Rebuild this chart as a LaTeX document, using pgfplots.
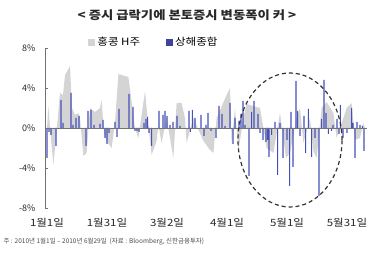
\documentclass[border=0pt]{standalone}
\usepackage{pgfplots}
\pgfplotsset{compat=1.18}
\usepackage{fontspec}
\setmainfont{Noto Sans CJK KR}
\newfontfamily\widefont{Noto Sans CJK KR}[FakeStretch=1.15]
\definecolor{hkgray}{RGB}{212,212,212}
\definecolor{shblue}{RGB}{70,80,185}
\definecolor{txt}{RGB}{40,40,40}
\begin{document}
\begin{tikzpicture}
\path[use as bounding box] (0,0) rectangle (380pt,256pt);
\node[font=\widefont\fontsize{11.6}{14}\selectfont\bfseries, text=txt] at (187pt,241pt) {< 증시 급락기에 본토증시 변동폭이 커 >};
\node[anchor=west, font=\fontsize{6.5}{8}\selectfont, text=black!70] at (0pt,14pt) {주 : 2010년 1월1일 – 2010년 6월29일 \ (자료 : Bloomberg, 신한금융투자)};
\begin{axis}[
  at={(45pt,48pt)}, anchor=south west,
  scale only axis, width=322pt, height=160pt,
  xmin=-1, xmax=160, ymin=-8, ymax=8,
  axis x line*=bottom, axis y line*=left,
  x axis line style={draw=none},
  y axis line style={draw=black!55, line width=0.6pt},
  xtick={0,30,60,90,120,150},
  xticklabels={1월1일,1월31일,3월2일,4월1일,5월1일,5월31일},
  x tick style={draw=none},
  xticklabel style={font=\widefont\fontsize{10}{12}\selectfont, text=txt, yshift=-7pt},
  ytick={-8,-4,0,4,8},
  yticklabels={-8\%,-4\%,0\%,4\%,8\%},
  tick align=inside,
  y tick style={draw=black!55, line width=0.6pt},
  major tick length=3pt,
  yticklabel style={font=\fontsize{9}{11}\selectfont, text=txt, xshift=-6pt},
  clip=false,
  legend style={at={(0.125,1.035)}, anchor=west, draw=none, fill=none,
    legend columns=2, font=\widefont\fontsize{10}{12}\selectfont,
    /tikz/every even column/.append style={column sep=24pt}},
  legend image code/.code={\fill[#1] (0pt,-3.5pt) rectangle (7pt,3.5pt);},
]
\addplot[fill=hkgray, draw=none] coordinates {
(0,0)(0.7,2.2)(1.5,0)(3.2,-3.7)(4.5,-1.0)(6.5,3.5)(8,3.3)(9,5.3)(11.5,6.2)(12.5,2.0)
(14,1.3)(15.7,1.5)(16.5,1.0)(18.2,-2.8)(19.8,-2.5)(21.5,2.0)(24,1.6)(26.5,2.0)(27.3,2.8)
(28.5,-0.5)(29.8,-1.3)(32.3,-2.0)(34,0.5)(35.7,5.4)(40.7,5.1)(44,0)(45.7,-1.0)(49,3.7)
(49.8,2.0)(52.3,-2.7)(54.8,-1.3)(55.7,0.3)(57.3,-1.5)(59.8,1.0)(63.2,-3.0)(64.8,2.5)
(67.3,2.5)(69,1.0)(69.8,-1.5)(73.2,1.0)(78.2,-1.3)(81.5,-2.2)(83.2,-2.5)(84.8,1.0)
(89.8,3.3)(91.5,4.0)(92.3,-1.5)(94,2.0)(95.7,-2.3)(98.2,1.0)(99.8,2.4)(101.5,2.3)
(106.5,2.0)(109.8,-2.0)(113.2,-2.5)(116.5,1.5)(119.5,-3.0)(121.5,-2.5)(124.8,1.0)
(126.5,2.0)(128.2,-1.5)(131.5,1.0)(133.2,-2.3)(134.8,-3.0)(137.3,2.0)(139.8,2.6)
(143.2,1.5)(144.8,-1.0)(148.2,1.0)(149.8,2.0)(152.3,2.5)(154,-1.2)(156.5,-1.0)
(158.2,0.5)(159,0)} \closedcycle;
\addlegendentry{홍콩 H주}
\addplot[ybar, bar width=1.1pt, fill=shblue, draw=none, legend image code/.code={\fill[fill=shblue!85!black] (0pt,-3.5pt) rectangle (7pt,3.5pt);}] coordinates {
(0,-3.0)(1,-0.4)(2,-0.7)(4.5,-1.8)(7,2.8)(8,0.5)(12,3.5)(13,0.3)(14.5,1.0)(16,1.2)
(19.5,-1.8)(20.5,1.7)(22,1.8)(23.5,0.3)(26.5,0.4)(28,0.8)(29,-1.0)(30,-1.6)(31,-0.5)
(34,0.6)(35,-0.9)(36,1.9)(41,3.4)(43,2.1)(44,-0.3)(45,-0.3)(46,-0.4)(48.5,0.5)
(49.5,0.9)(50.3,1.1)(51,-0.5)(52.3,-1.8)(56,1.7)(58,1.3)(59,1.7)(60,1.2)(61.5,0.3)
(63,0.6)(65,1.2)(66.5,0.2)(71,1.7)(71.7,-0.4)(72.7,1.8)(74,1.0)(77,1.3)(78.5,-0.8)
(79.5,0.3)(80.5,1.5)(82,-0.3)(84.5,-1.0)(86,2.2)(87.5,1.4)(89,0.2)(91.5,2.5)(93,-1.6)
(94,1.0)(96,0.7)(97,1.4)(98,2.7)(99,0.3)(101,-4.8)(102.3,1.6)(103.5,2.7)(105.5,1.4)
(106.5,-0.5)(108,-1.2)(109.5,-1.4)(110.3,-1.2)(111,-2.9)(112.3,-0.7)(114,0.6)
(115.3,-4.7)(116.5,0.5)(118,-3.0)(120,-1.2)(121.3,-5.8)(122,1.6)(123,-3.9)(124.5,4.7)
(125.3,1.7)(126.5,-0.8)(128.5,1.2)(129.3,-2.5)(130.7,1.9)(132.3,-2.9)(134,-1.0)
(136,-6.8)(137.3,0.9)(138.5,4.8)(139.5,1.5)(140.7,-0.6)(142.3,-0.3)(143,0.3)(145,0.9)
(146,-0.6)(146.7,2.3)(148,-1.0)(150,-0.5)(152.3,2.0)(153,0.5)(154,-3.0)(155,0.6)
(156.5,0.3)(157.7,0.2)(158.5,-2.3)};
\addlegendentry{상해종합}
\addplot[black!55, line width=0.6pt, forget plot] coordinates {(-1,0)(160,0)};
\draw[black!80, dashed, line width=1.2pt, dash pattern=on 4pt off 3pt]
  (axis cs:121.5,-1.2) ellipse [x radius=26, y radius=6.7];
\end{axis}
\end{tikzpicture}
\end{document}
